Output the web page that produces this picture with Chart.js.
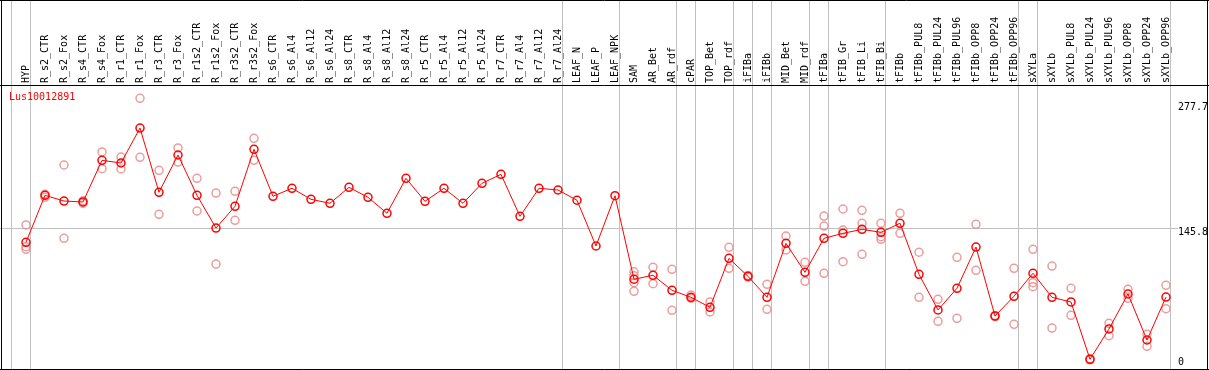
<html>
<head>
<style>
  body { margin: 0; background: #fff; }
</style>
</head>
<body>
<canvas id="chart" width="1209" height="370"></canvas>

<script src="https://cdn.jsdelivr.net/npm/chart.js@4.4.0/dist/chart.umd.min.js"></script>
<script>
const title = 'Lus10012891'

const categories = [
  'HYP', 'R_s2_CTR', 'R_s2_Fox', 'R_s4_CTR', 'R_s4_Fox', 'R_r1_CTR', 'R_r1_Fox', 'R_r3_CTR', 'R_r3_Fox',
  'R_r1s2_CTR', 'R_r1s2_Fox', 'R_r3s2_CTR', 'R_r3s2_Fox', 'R_s6_CTR', 'R_s6_Al4', 'R_s6_Al12', 'R_s6_Al24',
  'R_s8_CTR', 'R_s8_Al4', 'R_s8_Al12', 'R_s8_Al24', 'R_r5_CTR', 'R_r5_Al4', 'R_r5_Al12', 'R_r5_Al24',
  'R_r7_CTR', 'R_r7_Al4', 'R_r7_Al12', 'R_r7_Al24', 'LEAF_N', 'LEAF_P', 'LEAF_NPK', 'SAM', 'AR_Bet', 'AR_rdf',
  'cPAR', 'TOP_Bet', 'TOP_rdf', 'iFIBa', 'iFIBb', 'MID_Bet', 'MID_rdf', 'tFIBa', 'tFIB_Gr', 'tFIB_Li', 'tFIB_Bi',
  'tFIBb', 'tFIBb_PUL8', 'tFIBb_PUL24', 'tFIBb_PUL96', 'tFIBb_OPP8', 'tFIBb_OPP24', 'tFIBb_OPP96',
  'sXYLa', 'sXYLb', 'sXYLb_PUL8', 'sXYLb_PUL24', 'sXYLb_PUL96', 'sXYLb_OPP8', 'sXYLb_OPP24', 'sXYLb_OPP96'
]

// mean expression per sample
const means = [
  131.2, 180.6, 174.6, 173.6, 217.4, 214.6, 251.4, 183.8, 223.0,
  180.6, 146.2, 169.0, 229.0, 179.6, 188.0, 176.4, 172.2,
  189.0, 178.5, 161.7, 198.5, 174.3, 188.0, 172.2, 193.2,
  202.7, 158.5, 188.0, 186.2, 175.4, 127.3, 180.2, 92.3, 96.5, 80.7,
  73.3, 62.8, 114.3, 95.4, 73.3, 130.1, 99.6, 135.4, 140.6, 144.8, 141.7,
  151.2, 97.5, 60.0, 82.8, 126.2, 53.6, 74.4,
  98.6, 73.3, 68.4, 8.1, 40.0, 76.8, 28.4, 73.6
]

// individual replicates per sample
const replicates = [
  [149.4, 126.5, 123.8], [181.7, 178.5], [212.5, 135.4], [174.9, 172.2], [226.2, 208.6],
  [220.9, 208.3], [282.6, 220.6], [206.9, 160.6], [230.4, 215.6],
  [198.5, 164.1], [183.0, 108.3], [184.8, 154.3], [240.6, 217.4],
  [], [], [], [], [], [], [], [], [], [], [], [], [], [], [], [], [], [], [],
  [100.2, 96.0, 88.7, 79.6], [104.9, 87.6], [102.8, 59.6],
  [75.7, 72.3], [68.4, 57.9], [125.9, 103.8], [94.5, 96.3], [87.0, 60.7], [137.8, 123.1], [110.1, 90.1],
  [158.8, 148.3, 98.6], [166.2, 144.1, 110.8], [164.8, 151.2, 118.5], [151.2, 137.1, 134.3],
  [161.7, 140.6], [120.7, 73.3], [71.2, 48.1], [115.4, 51.2], [150.1, 101.7], [53.0, 54.2], [103.8, 44.9],
  [123.8, 88.7, 84.5], [106.2, 41.0], [82.8, 54.4], [7.5, 8.7], [46.0, 32.9], [81.7, 72.3], [34.4, 21.8], [85.9, 61.3]
]

const yTicks = [0, 145.8, 277.7]
// a grey separator is drawn right after each of these sample indexes
const groupEnds = [-1, 0, 28, 31, 34, 35, 37, 38, 39, 41, 42, 45, 52, 53, 60]

const FONT = '10px "DejaVu Sans Mono", monospace'

let meanPoints = means.map((v, i) => ({ x: i, y: v }))
let repPoints = []
replicates.forEach((reps, i) => {
  reps.forEach(v => repPoints.push({ x: i, y: v }))
})

const framePlugin = {
  id: 'frame',
  beforeDraw(chart) {
    const { ctx, width, height, scales: { x, y } } = chart
    ctx.save()
    ctx.fillStyle = '#fff'
    ctx.fillRect(0, 0, width, height)

    ctx.strokeStyle = '#c0c0c0'
    ctx.lineWidth = 1
    ctx.beginPath()
    groupEnds.forEach(i => {
      let px = Math.floor(x.getPixelForValue(i + 0.25)) + 0.5
      ctx.moveTo(px, 0)
      ctx.lineTo(px, 369)
    })
    let py = Math.round(y.getPixelForValue(145.8)) + 0.5
    ctx.moveTo(0, py)
    ctx.lineTo(1178, py)
    ctx.stroke()
    ctx.restore()
  },
  afterDraw(chart) {
    const { ctx, width, scales: { x, y } } = chart
    ctx.save()
    ctx.strokeStyle = '#000'
    ctx.lineWidth = 1
    ctx.beginPath()
    ctx.moveTo(0, 0.5); ctx.lineTo(width, 0.5)
    ctx.moveTo(0, 85.5); ctx.lineTo(width, 85.5)
    ctx.moveTo(0, 369.5); ctx.lineTo(width, 369.5)
    ctx.moveTo(1.5, 0); ctx.lineTo(1.5, 370)
    ctx.moveTo(1207.5, 0); ctx.lineTo(1207.5, 370)
    ctx.stroke()

    ctx.font = FONT
    ctx.fillStyle = '#000'
    categories.forEach((c, i) => {
      let px = x.getPixelForValue(i)
      ctx.save()
      ctx.translate(px, 83)
      ctx.rotate(-Math.PI / 2)
      ctx.textAlign = 'left'
      ctx.textBaseline = 'middle'
      ctx.fillText(c, 0, 0)
      ctx.restore()
    })

    ctx.textAlign = 'left'
    ctx.textBaseline = 'middle'
    yTicks.forEach(t => {
      let py = y.getPixelForValue(t)
      let ty = t === 0 ? py - 5 : py + 4.5
      ctx.fillText(String(t), 1178, ty)
    })

    ctx.fillStyle = '#ff0000'
    ctx.fillText(title, 9, 97)
    ctx.restore()
  }
}

new Chart(document.getElementById('chart'), {
  type: 'line',
  data: {
    datasets: [
      {
        label: 'mean',
        data: meanPoints,
        borderColor: '#ff0000',
        borderWidth: 1,
        tension: 0,
        pointRadius: 4,
        pointBorderWidth: 1.5,
        pointBorderColor: '#ff0000',
        pointBackgroundColor: 'rgba(0,0,0,0)',
        fill: false,
      },
      {
        label: 'replicates',
        data: repPoints,
        showLine: false,
        pointRadius: 4,
        pointBorderWidth: 1.5,
        pointBorderColor: 'rgba(232,140,140,0.85)',
        pointBackgroundColor: 'rgba(0,0,0,0)',
      },
    ],
  },
  options: {
    responsive: false,
    animation: false,
    devicePixelRatio: 1,
    clip: false,
    layout: { autoPadding: false, padding: { left: 2, right: 31, top: 86, bottom: 1 } },
    plugins: { legend: { display: false }, tooltip: { enabled: false } },
    scales: {
      x: { type: 'linear', min: -1.263, max: 60.632, display: false },
      y: { type: 'linear', min: -2.1, max: 295.6, display: false },
    },
  },
  plugins: [framePlugin],
})
</script>
</body>
</html>
